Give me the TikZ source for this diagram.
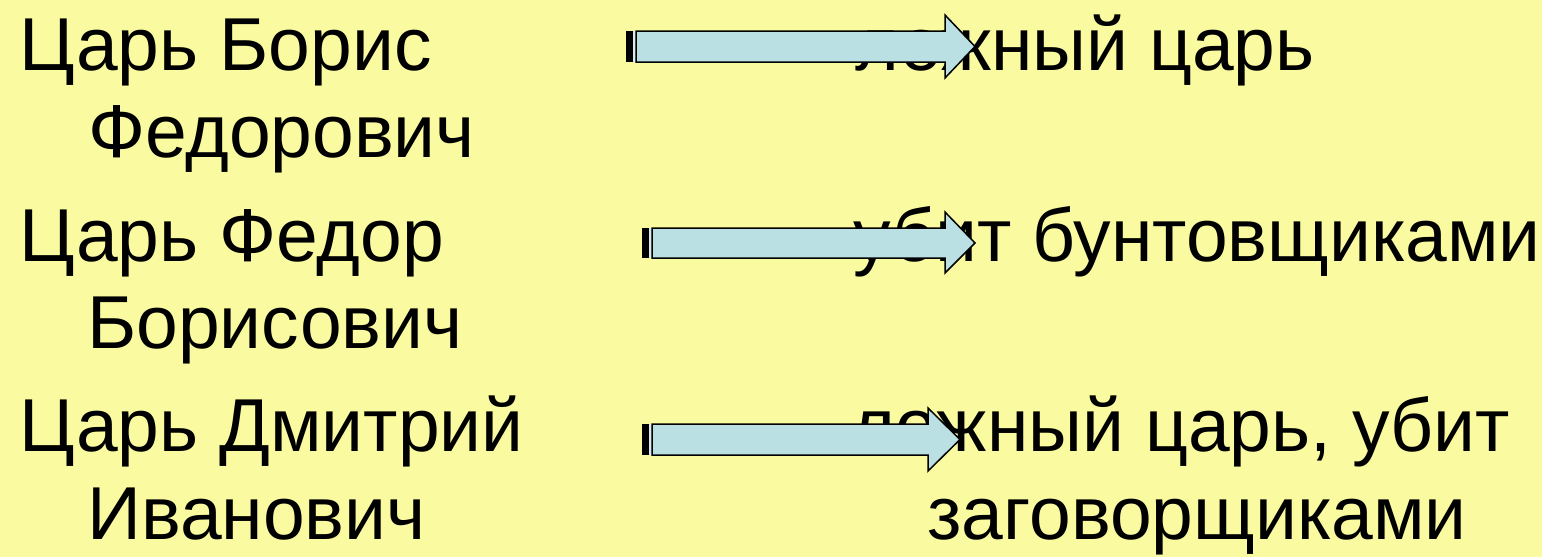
\documentclass[tikz,border=0pt]{standalone}
\usepackage{fontspec}
\setmainfont{Liberation Sans}
\definecolor{bg}{RGB}{250,250,160}
\definecolor{arrowfill}{RGB}{186,224,228}
\tikzset{
  txt/.style={anchor=base west, inner sep=0pt, font=\fontsize{75}{90}\selectfont},
  txtr/.style={anchor=base east, inner sep=0pt, font=\fontsize{75}{90}\selectfont},
  arrowbody/.style={draw=black, line width=1.5pt, fill=arrowfill, line join=miter},
  stripeblack/.style={fill=black},
  stripelight/.style={fill=arrowfill!60!white},
}
\begin{document}
\begin{tikzpicture}[x=1pt,y=-1pt]
\fill[bg] (0,0) rectangle (1542,557);
\useasboundingbox (0,0) rectangle (1542,557);
% left column
\node[txt] (l1) at (19,70) {Царь Борис};
\node[txt] (l2) at (88,157) {Федорович};
\node[txt] (l3) at (19,261) {Царь Федор};
\node[txt] (l4) at (87,348) {Борисович};
\node[txt] (l5) at (19,451) {Царь Дмитрий};
\node[txt] (l6) at (87,539) {Иванович};
% right column
\node[txtr] (r1) at (1315,70) {ложный царь};
\node[txtr] (r2) at (1541,261) {убит бунтовщиками};
\node[txtr] (r3) at (1510,451) {ложный царь, убит};
\node[txtr] (r4) at (1467,539) {заговорщиками};
% arrow 1
\fill[stripeblack] (626,31) rectangle (632.5,62);
\fill[stripelight] (632.5,31) rectangle (636,62);
\draw[arrowbody] (636,31) -- (945,31) -- (945,15) -- (975,46.5) -- (945,78) -- (945,62) -- (636,62) -- cycle;
% arrow 2
\fill[stripeblack] (642,228) rectangle (648.5,258);
\fill[stripelight] (648.5,228) rectangle (652,258);
\draw[arrowbody] (652,228) -- (945,228) -- (945,212) -- (975,243) -- (945,273) -- (945,258) -- (652,258) -- cycle;
% arrow 3
\fill[stripeblack] (642,424) rectangle (648.5,455);
\fill[stripelight] (648.5,424) rectangle (652,455);
\draw[arrowbody] (652,424) -- (928,424) -- (928,408) -- (960,439.5) -- (928,471) -- (928,455) -- (652,455) -- cycle;
\end{tikzpicture}
\end{document}
